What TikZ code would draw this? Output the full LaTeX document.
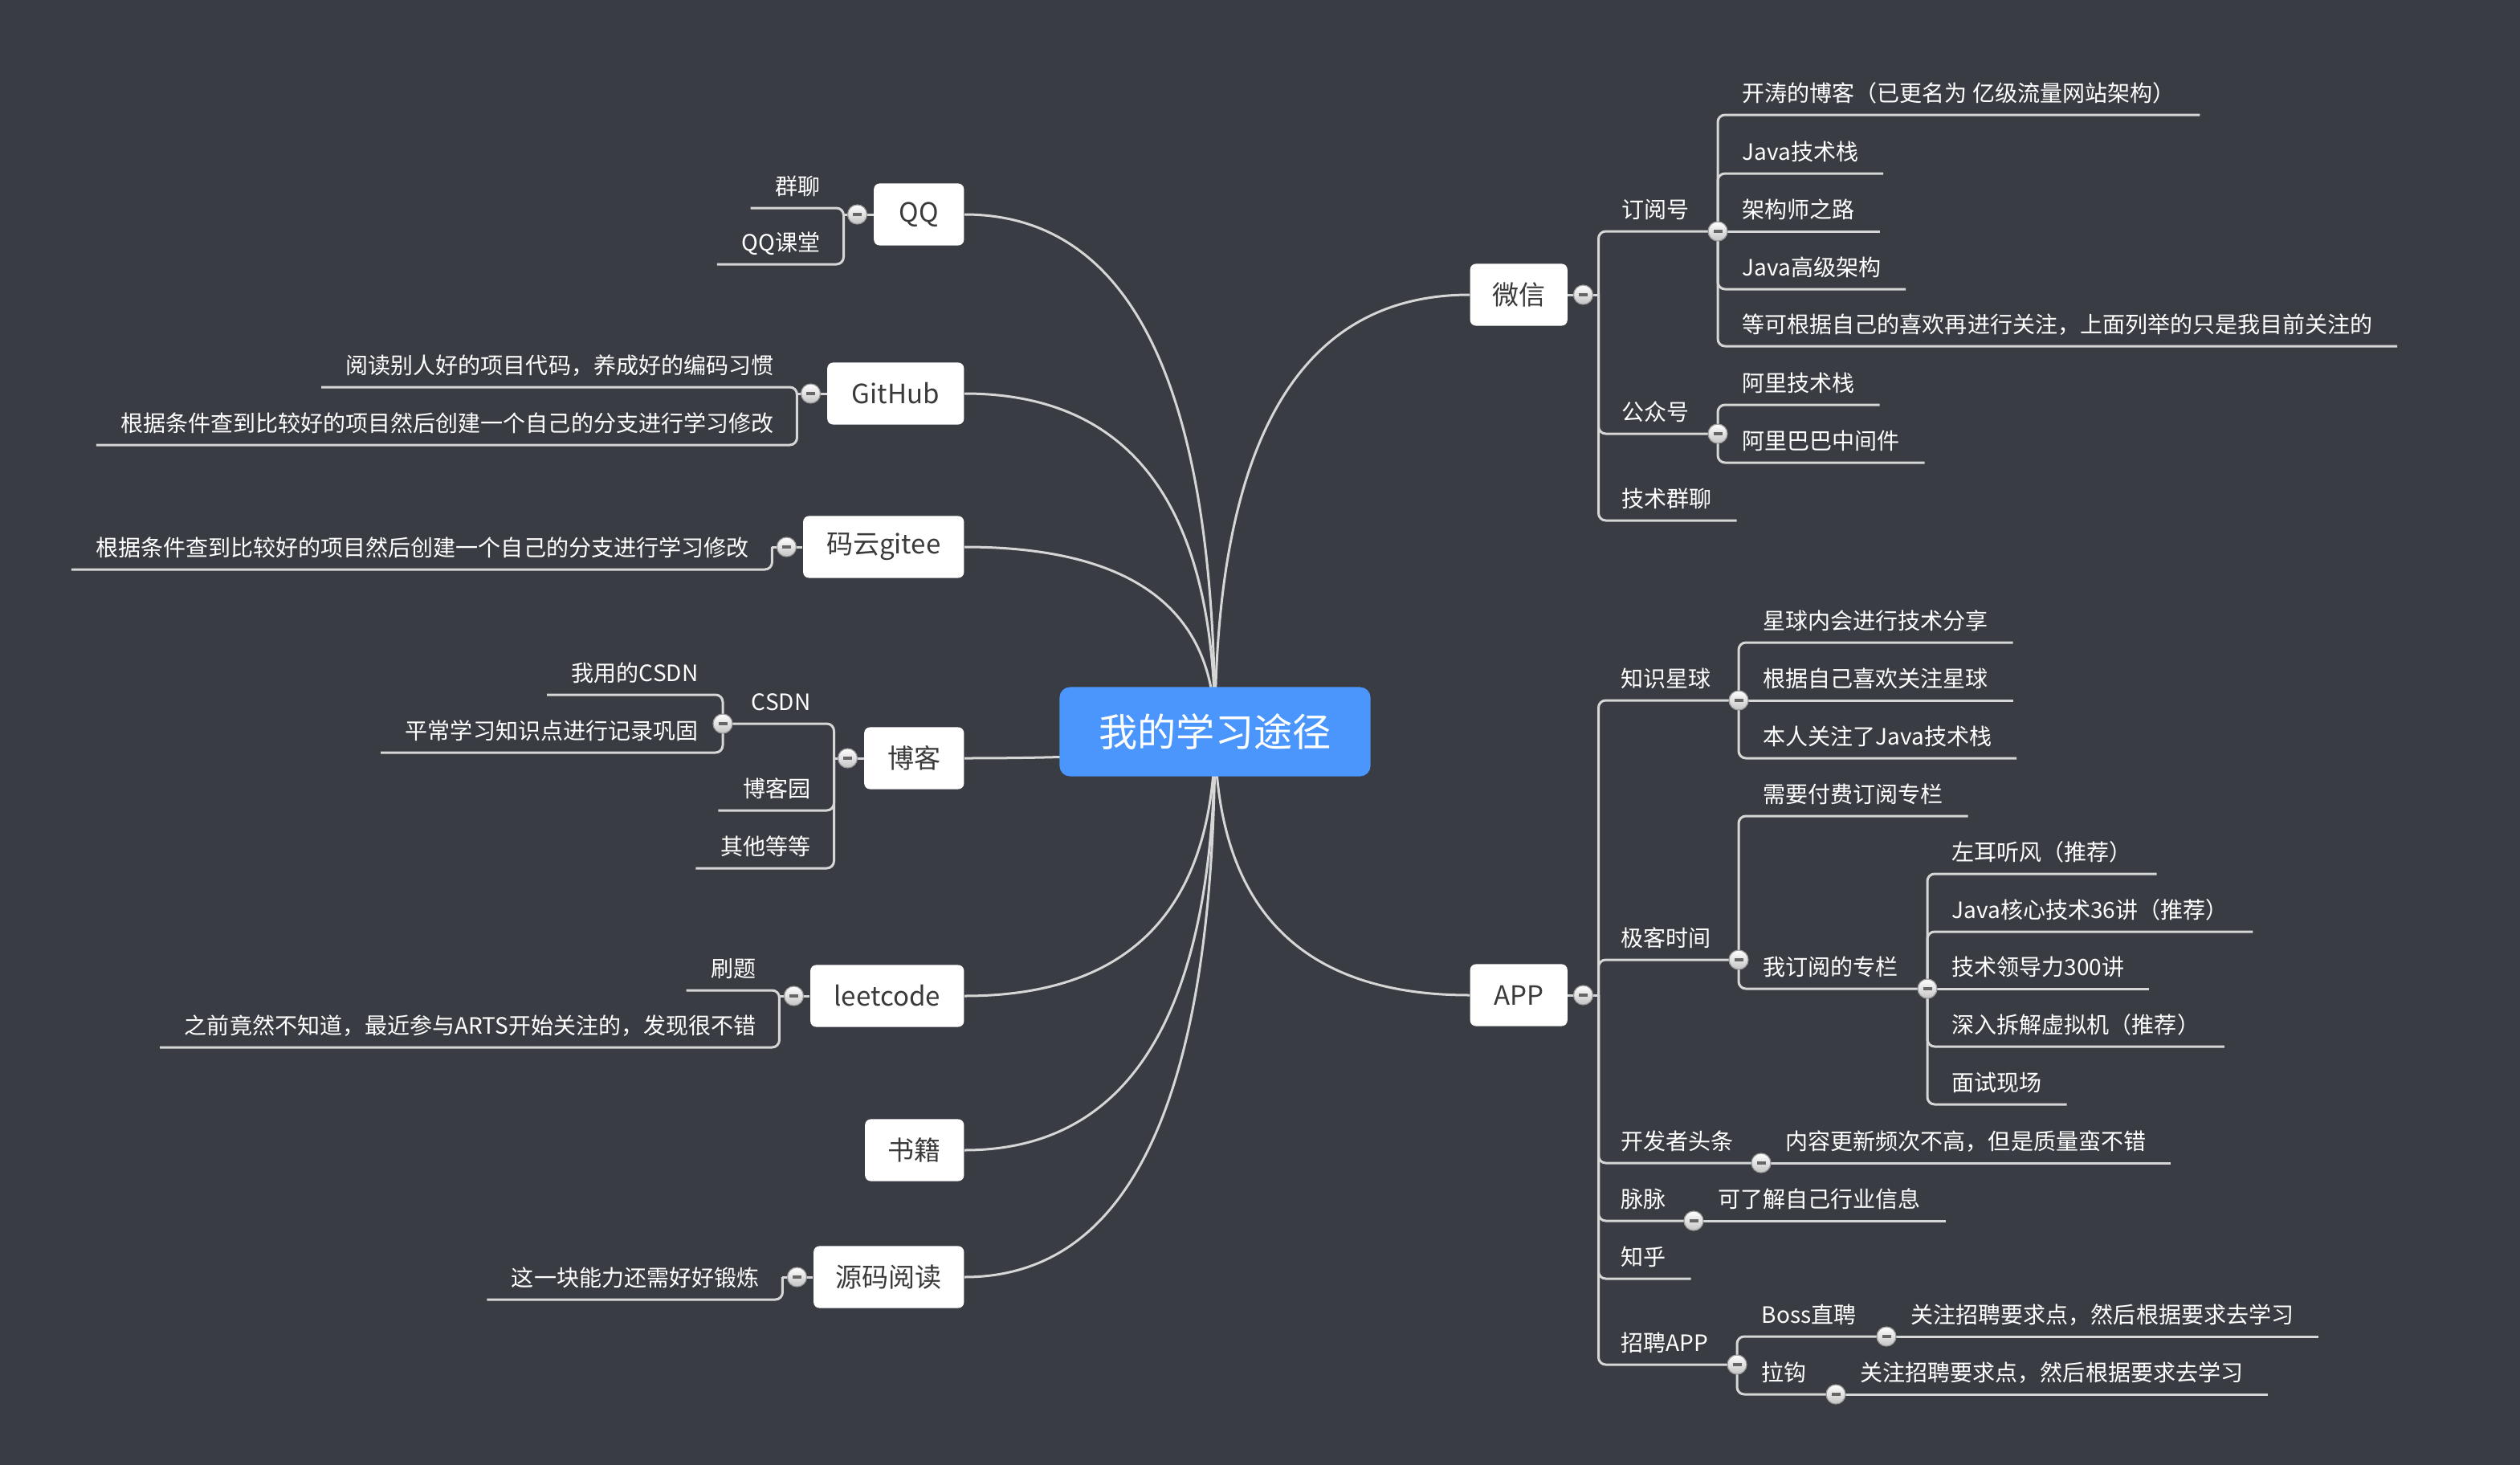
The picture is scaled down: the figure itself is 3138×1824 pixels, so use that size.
\documentclass[tikz,border=0pt]{standalone}
\usepackage{fontspec}
\setmainfont{Noto Sans CJK SC}
\usetikzlibrary{calc}
\definecolor{bgc}{HTML}{393C42}
\definecolor{linec}{HTML}{D6D6D6}
\definecolor{mainc}{HTML}{4A96FD}
\definecolor{topictext}{HTML}{3A3A3A}
\definecolor{foldb}{HTML}{C4C4C4}
\definecolor{foldd}{HTML}{9A9A9A}
\definecolor{minusc}{HTML}{666666}
\newcommand\lfnt{\fontsize{7.97pt}{9pt}\selectfont}
\newcommand\tfnt{\fontsize{9.4pt}{11pt}\selectfont}
\newcommand\cfnt{\fontsize{13.7pt}{16pt}\selectfont}
\pgfdeclarelayer{bgl}
\pgfdeclarelayer{linel}
\pgfsetlayers{bgl,linel,main}
\tikzset{
  conn/.style={draw=linec, line width=0.03cm},
  elbow/.style={conn, rounded corners=0.09cm},
  central/.style={fill=mainc, rounded corners=0.13cm, minimum width=3.87cm, minimum height=1.11cm, inner sep=0pt, text=white, font=\cfnt},
  topic/.style={fill=white, rounded corners=0.07cm, minimum height=0.77cm, inner xsep=0pt, inner ysep=0pt, text=topictext, font=\tfnt},
  leaf/.style={inner xsep=0.3cm, inner ysep=0pt, text depth=0.16cm, text height=0.24cm, text=white, font=\lfnt},
  leafR/.style={leaf, anchor=south west},
  leafL/.style={leaf, anchor=south east},
  fold/.style={circle, minimum size=0.24cm, inner sep=0pt, draw=foldd, line width=0.012cm, top color=white, bottom color=foldb,
    path picture={\fill[minusc] ([xshift=-0.055cm,yshift=-0.017cm]path picture bounding box.center) rectangle ([xshift=0.055cm,yshift=0.017cm]path picture bounding box.center);}},
}
\newcommand\mapcurve[1]{\draw[conn] (c.center) .. controls ($(c.center)!0.667!(c.center|-#1)$) and ($(#1)!0.667!(c.center|-#1)$) .. (#1);}
\begin{document}
\begin{tikzpicture}[x=0.01cm,y=-0.01cm]
\useasboundingbox (0,0) rectangle (3138,1824);
\begin{pgfonlayer}{bgl}
\fill[bgc] (0,0) rectangle (3138,1824);
\end{pgfonlayer}

% central
\node[central] (c) at (1513,911) {我的学习途径};

% ---------- left topics ----------
\node[topic, anchor=east, minimum width=1.12cm] (qq) at (1201,267) {QQ};
\node[fold] (qqf) at ([xshift=-0.2cm]qq.west) {};
\coordinate (qqT) at ([xshift=-0.37cm]qq.west);
\node[leafL] (qq1) at (1052,259) {群聊};
\node[leafL] (qq2) at (1052,329) {QQ课堂};

\node[topic, anchor=east, minimum width=1.70cm] (gh) at (1201,490) {GitHub};
\node[fold] (ghf) at ([xshift=-0.2cm]gh.west) {};
\coordinate (ghT) at ([xshift=-0.37cm]gh.west);
\node[leafL] (gh1) at (994,482) {阅读别人好的项目代码，养成好的编码习惯};
\node[leafL] (gh2) at (994,554) {根据条件查到比较好的项目然后创建一个自己的分支进行学习修改};

\node[topic, anchor=east, minimum width=2.00cm] (gt) at (1201,681) {码云gitee};
\node[fold] (gtf) at ([xshift=-0.2cm]gt.west) {};
\coordinate (gtT) at ([xshift=-0.38cm]gt.west);
\node[leafL] (gt1) at (963,709) {根据条件查到比较好的项目然后创建一个自己的分支进行学习修改};

\node[topic, anchor=east, minimum width=1.24cm] (blog) at (1201,944) {博客};
\node[fold] (blogf) at ([xshift=-0.2cm]blog.west) {};
\coordinate (blogT) at ([xshift=-0.37cm]blog.west);
\node[leafL] (csdn) at (1040,901) {CSDN};
\node[fold] (csdnf) at (900,901) {};
\node[leafL] (cs1) at (900,865) {我用的CSDN};
\node[leafL] (cs2) at (900,937) {平常学习知识点进行记录巩固};
\node[leafL] (blog2) at (1040,1009) {博客园};
\node[leafL] (blog3) at (1040,1081) {其他等等};

\node[topic, anchor=east, minimum width=1.91cm] (lc) at (1201,1240) {leetcode};
\node[fold] (lcf) at ([xshift=-0.2cm]lc.west) {};
\coordinate (lcT) at ([xshift=-0.38cm]lc.west);
\node[leafL] (lc1) at (972,1233) {刷题};
\node[leafL] (lc2) at (972,1304) {之前竟然不知道，最近参与ARTS开始关注的，发现很不错};

\node[topic, anchor=east, minimum width=1.23cm] (book) at (1201,1432) {书籍};

\node[topic, anchor=east, minimum width=1.87cm] (src) at (1201,1590) {源码阅读};
\node[fold] (srcf) at ([xshift=-0.2cm]src.west) {};
\coordinate (srcT) at ([xshift=-0.38cm]src.west);
\node[leafL] (src1) at (976,1618) {这一块能力还需好好锻炼};

% ---------- right topics ----------
\node[topic, anchor=west, minimum width=1.21cm] (wx) at (1830,367) {微信};
\node[fold] (wxf) at ([xshift=0.19cm]wx.east) {};
\coordinate (wxT) at ([xshift=0.38cm]wx.east);
\node[leafR] (dy) at (1989,288) {订阅号};
\node[fold] (dyf) at (2139,288) {};
\node[leafR] (dy1) at (2139,143) {开涛的博客（已更名为 亿级流量网站架构）};
\node[leafR] (dy2) at (2139,216) {Java技术栈};
\node[leafR] (dy3) at (2139,288) {架构师之路};
\node[leafR] (dy4) at (2139,360) {Java高级架构};
\node[leafR] (dy5) at (2139,431) {等可根据自己的喜欢再进行关注，上面列举的只是我目前关注的};
\node[leafR] (gz) at (1989,540) {公众号};
\node[fold] (gzf) at (2139,540) {};
\node[leafR] (gz1) at (2139,504) {阿里技术栈};
\node[leafR] (gz2) at (2139,576) {阿里巴巴中间件};
\node[leafR] (jq) at (1989,648) {技术群聊};

\node[topic, anchor=west, minimum width=1.21cm] (app) at (1830,1239) {APP};
\node[fold] (appf) at ([xshift=0.19cm]app.east) {};
\coordinate (appT) at ([xshift=0.38cm]app.east);
\node[leafR] (zs) at (1988,872) {知识星球};
\node[fold] (zsf) at (2165,872) {};
\node[leafR] (zs1) at (2165,800) {星球内会进行技术分享};
\node[leafR] (zs2) at (2165,872) {根据自己喜欢关注星球};
\node[leafR] (zs3) at (2165,944) {本人关注了Java技术栈};
\node[leafR] (jk) at (1988,1195) {极客时间};
\node[fold] (jkf) at (2165,1195) {};
\node[leafR] (jk1) at (2165,1016) {需要付费订阅专栏};
\node[leafR] (jk2) at (2165,1231) {我订阅的专栏};
\node[fold] (jk2f) at (2400,1231) {};
\node[leafR] (zl1) at (2400,1088) {左耳听风（推荐）};
\node[leafR] (zl2) at (2400,1160) {Java核心技术36讲（推荐）};
\node[leafR] (zl3) at (2400,1231) {技术领导力300讲};
\node[leafR] (zl4) at (2400,1303) {深入拆解虚拟机（推荐）};
\node[leafR] (zl5) at (2400,1375) {面试现场};
\node[leafR] (kf) at (1988,1448) {开发者头条};
\node[fold] (kff) at (2193,1448) {};
\node[leafR] (kf1) at (2193,1448) {内容更新频次不高，但是质量蛮不错};
\node[leafR] (mm) at (1988,1520) {脉脉};
\node[fold] (mmf) at (2109,1520) {};
\node[leafR] (mm1) at (2109,1520) {可了解自己行业信息};
\node[leafR] (zh) at (1988,1592) {知乎};
\node[leafR] (zp) at (1988,1699) {招聘APP};
\node[fold] (zpf) at (2163,1699) {};
\node[leafR] (boss) at (2163,1664) {Boss直聘};
\node[fold] (bossf) at (2349,1664) {};
\node[leafR] (boss1) at (2349,1664) {关注招聘要求点，然后根据要求去学习};
\node[leafR] (lg) at (2163,1736) {拉钩};
\node[fold] (lgf) at (2286,1736) {};
\node[leafR] (lg1) at (2286,1736) {关注招聘要求点，然后根据要求去学习};

% ---------- connectors ----------
\begin{pgfonlayer}{linel}
\mapcurve{qq.east}
\mapcurve{gh.east}
\mapcurve{gt.east}
\mapcurve{blog.east}
\mapcurve{lc.east}
\mapcurve{book.east}
\mapcurve{src.east}
\mapcurve{wx.west}
\mapcurve{app.west}

\draw[conn] (qq.west) -- (qqf.center) -- (qqT);
\draw[elbow] (qqT) |- (qq1.south west);
\draw[elbow] (qqT) |- (qq2.south west);

\draw[conn] (gh.west) -- (ghf.center) -- (ghT);
\draw[elbow] (ghT) |- (gh1.south west);
\draw[elbow] (ghT) |- (gh2.south west);

\draw[conn] (gt.west) -- (gtf.center) -- (gtT);
\draw[elbow] (gtT) |- (gt1.south west);

\draw[conn] (blog.west) -- (blogf.center) -- (blogT);
\draw[elbow] (blogT) |- (csdnf.center);
\draw[elbow] (blogT) |- (blog2.south west);
\draw[elbow] (blogT) |- (blog3.south west);
\draw[elbow] (csdnf.center) |- (cs1.south west);
\draw[elbow] (csdnf.center) |- (cs2.south west);

\draw[conn] (lc.west) -- (lcf.center) -- (lcT);
\draw[elbow] (lcT) |- (lc1.south west);
\draw[elbow] (lcT) |- (lc2.south west);

\draw[conn] (src.west) -- (srcf.center) -- (srcT);
\draw[elbow] (srcT) |- (src1.south west);

\draw[conn] (wx.east) -- (wxf.center) -- (wxT);
\draw[elbow] (wxT) |- (dyf.center);
\draw[elbow] (wxT) |- (gzf.center);
\draw[elbow] (wxT) |- (jq.south east);
\draw[elbow] (dyf.center) |- (dy1.south east);
\draw[elbow] (dyf.center) |- (dy2.south east);
\draw[conn] (dyf.center) -- (dy3.south east);
\draw[elbow] (dyf.center) |- (dy4.south east);
\draw[elbow] (dyf.center) |- (dy5.south east);
\draw[elbow] (gzf.center) |- (gz1.south east);
\draw[elbow] (gzf.center) |- (gz2.south east);

\draw[conn] (app.east) -- (appf.center) -- (appT);
\draw[elbow] (appT) |- (zsf.center);
\draw[elbow] (appT) |- (jkf.center);
\draw[elbow] (appT) |- (kff.center);
\draw[elbow] (appT) |- (mmf.center);
\draw[elbow] (appT) |- (zh.south east);
\draw[elbow] (appT) |- (zpf.center);
\draw[elbow] (zsf.center) |- (zs1.south east);
\draw[conn] (zsf.center) -- (zs2.south east);
\draw[elbow] (zsf.center) |- (zs3.south east);
\draw[elbow] (jkf.center) |- (jk1.south east);
\draw[elbow] (jkf.center) |- (jk2f.center);
\draw[elbow] (jk2f.center) |- (zl1.south east);
\draw[elbow] (jk2f.center) |- (zl2.south east);
\draw[conn] (jk2f.center) -- (zl3.south east);
\draw[elbow] (jk2f.center) |- (zl4.south east);
\draw[elbow] (jk2f.center) |- (zl5.south east);
\draw[conn] (kff.center) -- (kf1.south east);
\draw[conn] (mmf.center) -- (mm1.south east);
\draw[elbow] (zpf.center) |- (bossf.center);
\draw[elbow] (zpf.center) |- (lgf.center);
\draw[conn] (bossf.center) -- (boss1.south east);
\draw[conn] (lgf.center) -- (lg1.south east);
\end{pgfonlayer}
\end{tikzpicture}
\end{document}
